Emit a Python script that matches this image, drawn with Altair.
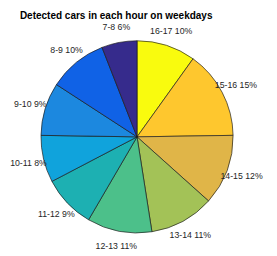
import altair as alt
import pandas as pd

hours = ["16-17", "15-16", "14-15", "13-14", "12-13", "11-12", "10-11", "9-10", "8-9", "7-8"]
shares = [10, 15, 12, 11, 11, 9, 8, 9, 10, 6]
colors = ["#F9FB0E", "#FEC72E", "#E0B548", "#A3C257", "#4CC08A",
          "#1DB0B2", "#10A3DC", "#1C88DF", "#1062E6", "#362B8C"]
title_text = "Detected cars in each hour on weekdays"

df = pd.DataFrame({"hour": hours, "share": shares, "order": list(range(len(hours)))})
df["label"] = [f"{h} {s}%" for h, s in zip(hours, shares)]

CX, CY = 133, 129
R = 99

base = alt.Chart(df).encode(
    theta=alt.Theta("share:Q", stack=True),
    order=alt.Order("order:Q", sort="ascending"),
)
pie = base.mark_arc(radius=R, stroke="#1a1a1a", strokeWidth=0.7).encode(
    color=alt.Color("hour:N", scale=alt.Scale(domain=hours, range=colors), legend=None),
    x=alt.value(CX), y=alt.value(CY),
)
labels = base.mark_text(radius=115, fontSize=9, font="Liberation Sans", color="#262626").encode(
    text="label:N", x=alt.value(CX), y=alt.value(CY),
)
title = alt.Chart(pd.DataFrame({"t": [title_text]})).mark_text(
    fontSize=10.3, font="Liberation Sans", fontWeight="bold", color="#000000",
    align="center", baseline="alphabetic",
).encode(text="t:N", x=alt.value(111.5), y=alt.value(7.3))

chart = alt.layer(pie, labels, title).properties(
    width=269, height=248, padding=0,
    autosize=alt.AutoSizeParams(type="none"),
).configure_view(stroke=None)

chart.save("out.html", embed_options={"renderer": "svg", "actions": False})
